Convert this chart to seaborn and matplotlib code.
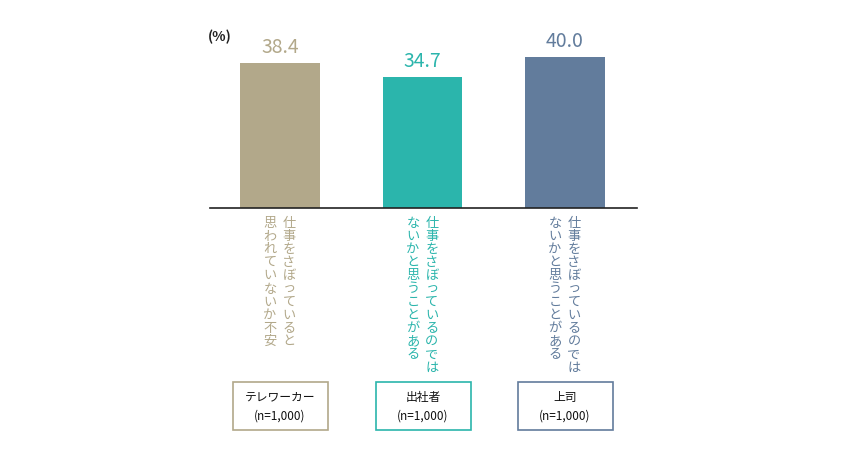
import pandas as pd
import seaborn as sns
import matplotlib.pyplot as plt
from matplotlib.patches import Rectangle

plt.rcParams['font.family'] = 'Noto Sans CJK JP'

# Data
groups = ['テレワーカー', '出社者', '上司']
values = [38.4, 34.7, 40.0]
sample_labels = ['(n=1,000)', '(n=1,000)', '(n=1,000)']
question_lines = [
    ['仕事をさぼっていると', '思われていないか不安'],
    ['仕事をさぼっているのでは', 'ないかと思うことがある'],
    ['仕事をさぼっているのでは', 'ないかと思うことがある'],
]
colors = ['#b2a88a', '#2bb5ac', '#627c9c']

W, H = 846, 450
fig = plt.figure(figsize=(W / 100, H / 100), dpi=100)
ax = fig.add_axes([210 / W, 1 - 208 / H, 427 / W, 178 / H])

df = pd.DataFrame({'group': groups, 'value': values})
sns.barplot(data=df, x='group', y='value', hue='group', palette=colors,
            width=0.56, ax=ax, legend=False, saturation=1)

ax.set_xlim(-0.49, 2.505)
ax.set_ylim(0, 47.1)
for s in ['top', 'right', 'left']:
    ax.spines[s].set_visible(False)
ax.spines['bottom'].set_color('#222222')
ax.spines['bottom'].set_linewidth(1.2)
ax.set_xticks([])
ax.set_yticks([])
ax.set_xlabel('')
ax.set_ylabel('')

# value labels
for i, v in enumerate(values):
    ax.text(i, v + 1.2, f'{v:.1f}', ha='center', va='bottom',
            fontsize=14, color=colors[i])

fig.text(208 / W, 1 - 37 / H, '(%)', fontsize=10, fontweight='bold',
         ha='left', va='center', color='#222222')

# vertical Japanese labels (columns right to left)
centers = [280, 423, 565]
for i, lines in enumerate(question_lines):
    for j, line in enumerate(lines):
        cx = centers[i] + 9 - j * 19
        for k, ch in enumerate(line):
            cy = 223 + k * 13.2
            fig.text(cx / W, 1 - cy / H, ch, fontsize=9.5, color=colors[i],
                     ha='center', va='center')

# boxes at bottom
for i in range(3):
    x0 = centers[i] - 47
    fig.add_artist(Rectangle((x0 / W, 1 - 430 / H), 95 / W, 48 / H,
                             transform=fig.transFigure, fill=False,
                             edgecolor=colors[i], linewidth=1.2))
    fig.text(centers[i] / W, 1 - 397 / H, groups[i], fontsize=8.5,
             ha='center', va='center', color='#111111')
    fig.text(centers[i] / W, 1 - 416 / H, sample_labels[i], fontsize=8.5,
             ha='center', va='center', color='#111111')

fig.savefig('out.png', dpi=100)
